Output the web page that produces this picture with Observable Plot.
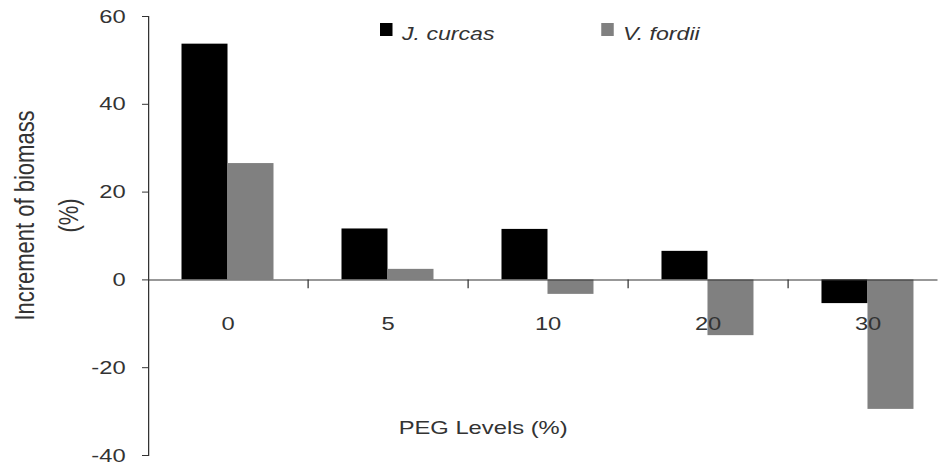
<!DOCTYPE html>
<html><head><meta charset="utf-8">
<script src="https://cdn.jsdelivr.net/npm/d3@7"></script>
<script src="https://cdn.jsdelivr.net/npm/@observablehq/plot@0.6"></script>
<style>
body{margin:0;background:#fff;}
#wrap{position:relative;width:750.4px;height:465px;transform:scaleX(1.25);transform-origin:0 0;font-family:"Liberation Sans",Arial,sans-serif;}
.key{position:absolute;}
.lab{position:absolute;font-style:italic;font-size:18.5px;color:#333;white-space:nowrap;line-height:21px;}
</style></head><body><div id="wrap"></div>
<script>
const pegLevels = ["0", "5", "10", "20", "30"];
const curcas = [53.7, 11.6, 11.5, 6.5, -5.4];
const fordii = [26.5, 2.4, -3.3, -12.7, -29.5];
const seriesNames = ["J. curcas", "V. fordii"];
const seriesColors = ["#000000", "#808080"];
const yTicks = [-40, -20, 0, 20, 40, 60];
const yTitle = ["Increment of biomass", "(%)"];
const xTitle = "PEG Levels (%)";

const S = 1.25; // the reference is stretched horizontally
const W = 938 / S, H = 465;
const x0 = 148 / S, x1 = 948 / S;
const step = (x1 - x0) / pegLevels.length;
const barW = 46 / S;
const inset = (step - barW) / 2;
const ink = "#333";

const rows = pegLevels.map((p, i) => ({peg: p, curcas: curcas[i], fordii: fordii[i]}));

const chart = Plot.plot({
  width: W, height: H,
  marginLeft: x0, marginRight: 0, marginTop: 16, marginBottom: 10,
  style: {fontFamily: "'Liberation Sans', Arial, sans-serif", fontSize: "19px", color: ink, background: "#fff"},
  x: {type: "band", domain: pegLevels, range: [x0, x1], padding: 0, axis: null},
  y: {domain: [-40, 60], axis: null},
  marks: [
    Plot.barY(rows, {x: "peg", y: "curcas", fill: seriesColors[0], insetLeft: inset, insetRight: inset, dx: -barW / 2}),
    Plot.barY(rows, {x: "peg", y: "fordii", fill: seriesColors[1], insetLeft: inset, insetRight: inset, dx: barW / 2}),
    Plot.frame({anchor: "left", stroke: ink}),
    Plot.ruleY([0], {stroke: ink}),
    Plot.ruleX(pegLevels, {x: d => d, y1: 0, y2: -2, dx: step / 2, stroke: ink}),
    Plot.axisY({ticks: yTicks, tickSize: 4.8, tickPadding: 13.6, tickFormat: d => String(d), fontSize: 19, stroke: ink, fill: ink}),
    Plot.text(pegLevels, {x: d => d, y: () => 0, dy: 43.6, text: d => d, fontSize: 19, fill: ink, lineAnchor: "middle"}),
    Plot.text([xTitle], {frameAnchor: "bottom-left", dx: 386 - x0, dy: -28, text: d => d, fontSize: 19, fill: ink, textAnchor: "middle", lineAnchor: "middle"}),
    Plot.text([yTitle[0]], {frameAnchor: "left", dx: 19.5 - x0, dy: 215 - 235.5, rotate: -90, text: d => d, fontSize: 22, fill: ink, textAnchor: "middle", lineAnchor: "middle"}),
    Plot.text([yTitle[1]], {frameAnchor: "left", dx: 54.5 - x0, dy: 215 - 235.5, rotate: -90, text: d => d, fontSize: 22, fill: ink, textAnchor: "middle", lineAnchor: "middle"})
  ]
});
const wrap = document.getElementById("wrap");
wrap.appendChild(chart);

const keyX = [304, 480.8];
seriesNames.forEach((name, i) => {
  const sq = document.createElement("div");
  sq.className = "key";
  Object.assign(sq.style, {left: keyX[i] + "px", top: "23px", width: "10.4px", height: "13px", background: seriesColors[i]});
  wrap.appendChild(sq);
  const t = document.createElement("div");
  t.className = "lab";
  t.textContent = name;
  Object.assign(t.style, {left: (keyX[i] + 17.6) + "px", top: "23px"});
  wrap.appendChild(t);
});
</script></body></html>
